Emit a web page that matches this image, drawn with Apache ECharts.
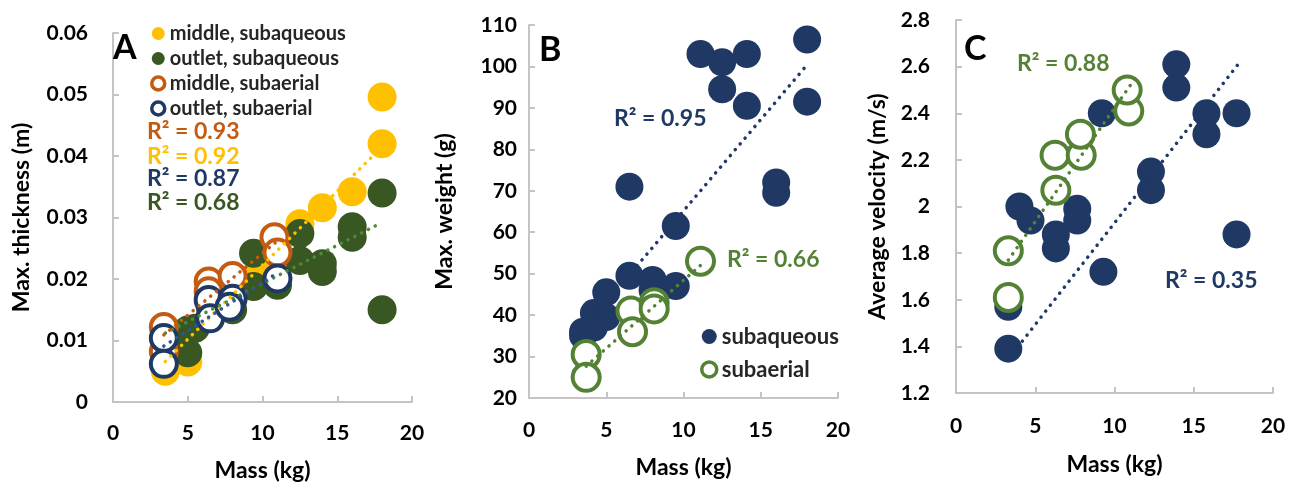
<!DOCTYPE html>
<html>
<head>
<meta charset="utf-8">
<title>Mass vs thickness, weight, velocity</title>
<script src="https://cdn.jsdelivr.net/npm/echarts@6/dist/echarts.min.js"></script>
<style>
    html, body { margin: 0; padding: 0; background: #fff; }
    #chart { width: 1296px; height: 490px; }
</style>
</head>
<body>
<div id="chart"></div>
<script>
// ---- 数据: 面板 A (Max. thickness) ----
const aMiddleSubaqueous = [[3.5, 0.005], [5, 0.0065], [3.5, 0.0085], [4.5, 0.011], [6.5, 0.0165], [8, 0.018],
    [9.8, 0.0223], [10.7, 0.0215], [11, 0.025], [12.5, 0.029], [14, 0.0316], [16, 0.0342], [18, 0.042], [18, 0.0496]];
const aOutletSubaqueous = [[3.5, 0.0095], [4.5, 0.011], [5, 0.008], [5, 0.0117], [5.5, 0.012], [6.5, 0.0155],
    [8, 0.015], [9.4, 0.0242], [9.4, 0.0188], [11, 0.019], [12.5, 0.0274], [12.5, 0.023], [14, 0.0225],
    [14, 0.0212], [16, 0.0285], [16, 0.0268], [18, 0.034], [18, 0.015]];
const aMiddleSubaerial = [[3.4, 0.0122], [3.4, 0.0082], [6.4, 0.0196], [6.4, 0.018], [8, 0.0205], [10.8, 0.0268], [11, 0.0243]];
const aOutletSubaerial = [[3.4, 0.0104], [3.4, 0.0062], [6.4, 0.0166], [6.5, 0.0136], [8, 0.0168], [7.8, 0.0155], [11, 0.0201]];
// 趋势线端点
const aTrendMiddleSubaqueous = [[3.5, 0.0066], [18, 0.0415]];
const aTrendOutletSubaqueous = [[3.5, 0.0112], [17.6, 0.0287]];
const aTrendMiddleSubaerial = [[3.4, 0.0109], [11, 0.0262]];
const aTrendOutletSubaerial = [[3.4, 0.0091], [11, 0.021]];
const aR2 = ['R² = 0.93', 'R² = 0.92', 'R² = 0.87', 'R² = 0.68'];

// ---- 数据: 面板 B (Max. weight) ----
const bSubaqueous = [[3.5, 36], [3.5, 35], [4.2, 40.5], [4.2, 37], [5, 39.5], [5, 45.5], [6.5, 49.5], [8, 48.5],
    [8, 46], [9.5, 47], [9.5, 61.5], [6.5, 71], [11.1, 103], [12.5, 101], [12.5, 94.5], [14.1, 103], [14.1, 90.5],
    [16, 72], [16, 69.5], [18, 106.5], [18, 91.5]];
const bSubaerial = [[3.7, 30.5], [3.7, 25], [6.6, 41], [6.7, 36], [8.1, 43], [8.1, 41.5], [11.1, 53]];
const bTrendSubaqueous = [[3.5, 36.5], [18, 100.4]];
const bTrendSubaerial = [[3.7, 27.7], [11.1, 52]];
const bR2 = ['R² = 0.95', 'R² = 0.66'];

// ---- 数据: 面板 C (Average velocity) ----
const cSubaqueous = [[3.3, 1.39], [3.3, 1.57], [4.0, 2.0], [4.7, 1.94], [6.3, 1.88], [6.3, 1.82], [7.65, 1.99],
    [7.65, 1.94], [9.2, 2.40], [9.3, 1.72], [12.3, 2.15], [12.3, 2.07], [13.9, 2.61], [13.9, 2.51], [15.8, 2.40],
    [15.8, 2.31], [17.7, 2.40], [17.7, 1.88]];
const cSubaerial = [[3.3, 1.61], [3.3, 1.81], [6.3, 2.07], [6.25, 2.22], [7.9, 2.22], [7.85, 2.31], [10.9, 2.41], [10.8, 2.50]];
const cTrendSubaqueous = [[3.3, 1.345], [17.8, 2.61]];
const cTrendSubaerial = [[3.3, 1.77], [11, 2.52]];
const cR2 = ['R² = 0.88', 'R² = 0.35'];

const massTicks = { min: 0, max: 20, interval: 5 };

const FONT = 'Lato, "Open Sans", sans-serif';
const YELLOW = '#FFC000';
const DKGREEN = '#385723';
const ORANGE = '#C55A11';
const NAVY = '#1F3864';
const GREEN = '#548235';
const AXIS_GREY = '#c4c4c4';

let myChart = echarts.init(document.getElementById('chart'));

// 实心点
function filled(name, data, color, idx, size) {
    return {
        name: name, type: 'scatter', data: data, xAxisIndex: idx, yAxisIndex: idx,
        symbolSize: size, itemStyle: { color: color, opacity: 1 }
    };
}

// 空心点 (白色填充)
function hollow(name, data, color, idx, size) {
    return {
        name: name, type: 'scatter', data: data, xAxisIndex: idx, yAxisIndex: idx,
        symbolSize: size, itemStyle: { color: '#fff', borderColor: color, borderWidth: 4, opacity: 1 }
    };
}

// 点线趋势线
function trend(name, data, color, idx) {
    return {
        name: name, type: 'line', data: data, xAxisIndex: idx, yAxisIndex: idx,
        symbol: 'none', silent: true, z: 5,
        lineStyle: { color: color, width: 3.5, type: [0.1, 7.5], cap: 'round' }
    };
}

function xAxis(idx, labelMargin, nameGap) {
    return {
        type: 'value', gridIndex: idx, min: massTicks.min, max: massTicks.max, interval: massTicks.interval,
        name: 'Mass (kg)', nameLocation: 'middle', nameGap: nameGap,
        nameTextStyle: { fontFamily: FONT, fontWeight: 'bold', fontSize: 23, color: '#000' },
        axisLine: { show: true, lineStyle: { color: AXIS_GREY, width: 2 } },
        axisTick: { show: true, inside: true, length: 6, lineStyle: { color: AXIS_GREY, width: 2 } },
        axisLabel: { margin: labelMargin, fontFamily: FONT, fontWeight: 'bold', fontSize: 21, color: '#000' },
        splitLine: { show: false }
    };
}

function yAxis(idx, name, min, max, interval, labelMargin, nameGap) {
    return {
        type: 'value', gridIndex: idx, min: min, max: max, interval: interval,
        name: name, nameLocation: 'middle', nameGap: nameGap, nameRotate: 90,
        nameTextStyle: { fontFamily: FONT, fontWeight: 'bold', fontSize: 23, color: '#000' },
        axisLine: { show: true, lineStyle: { color: AXIS_GREY, width: 2 } },
        axisTick: { show: true, inside: true, length: 6, lineStyle: { color: AXIS_GREY, width: 2 } },
        axisLabel: { margin: labelMargin, fontFamily: FONT, fontWeight: 'bold', fontSize: 21, color: '#000' },
        splitLine: { show: false }
    };
}

function label(text, x, y, color, size) {
    return {
        type: 'text', x: x, y: y, z: 100,
        style: { text: text, fill: color, font: 'bold ' + size + 'px ' + FONT, textVerticalAlign: 'middle' }
    };
}

let option = {
    animation: false,
    backgroundColor: '#fff',
    grid: [
        { left: 113, top: 33, width: 299, height: 369 },
        { left: 529, top: 25, width: 309, height: 373 },
        { left: 956, top: 20, width: 317, height: 373 }
    ],
    xAxis: [xAxis(0, 21, 57), xAxis(1, 22, 58), xAxis(2, 23, 60)],
    yAxis: [
        yAxis(0, 'Max. thickness (m)', 0, 0.06, 0.01, 25, 80),
        yAxis(1, 'Max. weight (g)', 20, 110, 10, 12, 73),
        yAxis(2, 'Average velocity (m/s)', 1.2, 2.8, 0.2, 26, 67)
    ],
    legend: [{
        orient: 'vertical', left: 150, top: 23, padding: 0, itemWidth: 13, itemHeight: 13, itemGap: 4,
        textStyle: { fontFamily: FONT, fontWeight: 'bold', fontSize: 20, lineHeight: 21, color: '#262626' },
        data: [
            { name: 'middle, subaqueous' },
            { name: 'outlet, subaqueous' },
            { name: 'middle, subaerial', itemStyle: { borderWidth: 3.5 } },
            { name: 'outlet, subaerial', itemStyle: { borderWidth: 3.5 } }
        ]
    }, {
        orient: 'vertical', left: 700, top: 325, padding: 0, itemWidth: 15, itemHeight: 15, itemGap: 10,
        textStyle: { fontFamily: FONT, fontWeight: 'bold', fontSize: 22, lineHeight: 23, color: '#262626' },
        data: [
            { name: 'subaqueous' },
            { name: 'subaerial', itemStyle: { borderWidth: 3.5 } }
        ]
    }],
    graphic: [
        label('A', 113, 48, '#000', 34),
        label('B', 539, 50, '#000', 34),
        label('C', 964, 49, '#000', 34),
        label(aR2[0], 147, 132, ORANGE, 23),
        label(aR2[1], 147, 157, YELLOW, 23),
        label(aR2[2], 147, 179, NAVY, 23),
        label(aR2[3], 147, 203, DKGREEN, 23),
        label(bR2[0], 614, 119, NAVY, 23),
        label(bR2[1], 727, 260, GREEN, 23),
        label(cR2[0], 1017, 64, GREEN, 23),
        label(cR2[1], 1165, 281, NAVY, 23)
    ],
    series: [
        // 面板 A
        filled('middle, subaqueous', aMiddleSubaqueous, YELLOW, 0, 29),
        filled('outlet, subaqueous', aOutletSubaqueous, DKGREEN, 0, 29),
        hollow('middle, subaerial', aMiddleSubaerial, ORANGE, 0, 26),
        hollow('outlet, subaerial', aOutletSubaerial, NAVY, 0, 26),
        trend('trend A1', aTrendMiddleSubaqueous, YELLOW, 0),
        trend('trend A2', aTrendOutletSubaqueous, '#4e8a3a', 0),
        trend('trend A3', aTrendMiddleSubaerial, ORANGE, 0),
        trend('trend A4', aTrendOutletSubaerial, '#2f5597', 0),
        // 面板 B
        filled('subaqueous', bSubaqueous, NAVY, 1, 28),
        hollow('subaerial', bSubaerial, GREEN, 1, 27),
        trend('trend B1', bTrendSubaqueous, NAVY, 1),
        trend('trend B2', bTrendSubaerial, GREEN, 1),
        // 面板 C
        filled('subaqueous', cSubaqueous, NAVY, 2, 28),
        hollow('subaerial', cSubaerial, GREEN, 2, 27),
        trend('trend C1', cTrendSubaqueous, NAVY, 2),
        trend('trend C2', cTrendSubaerial, GREEN, 2)
    ]
};

myChart.setOption(option);
</script>
</body>
</html>
